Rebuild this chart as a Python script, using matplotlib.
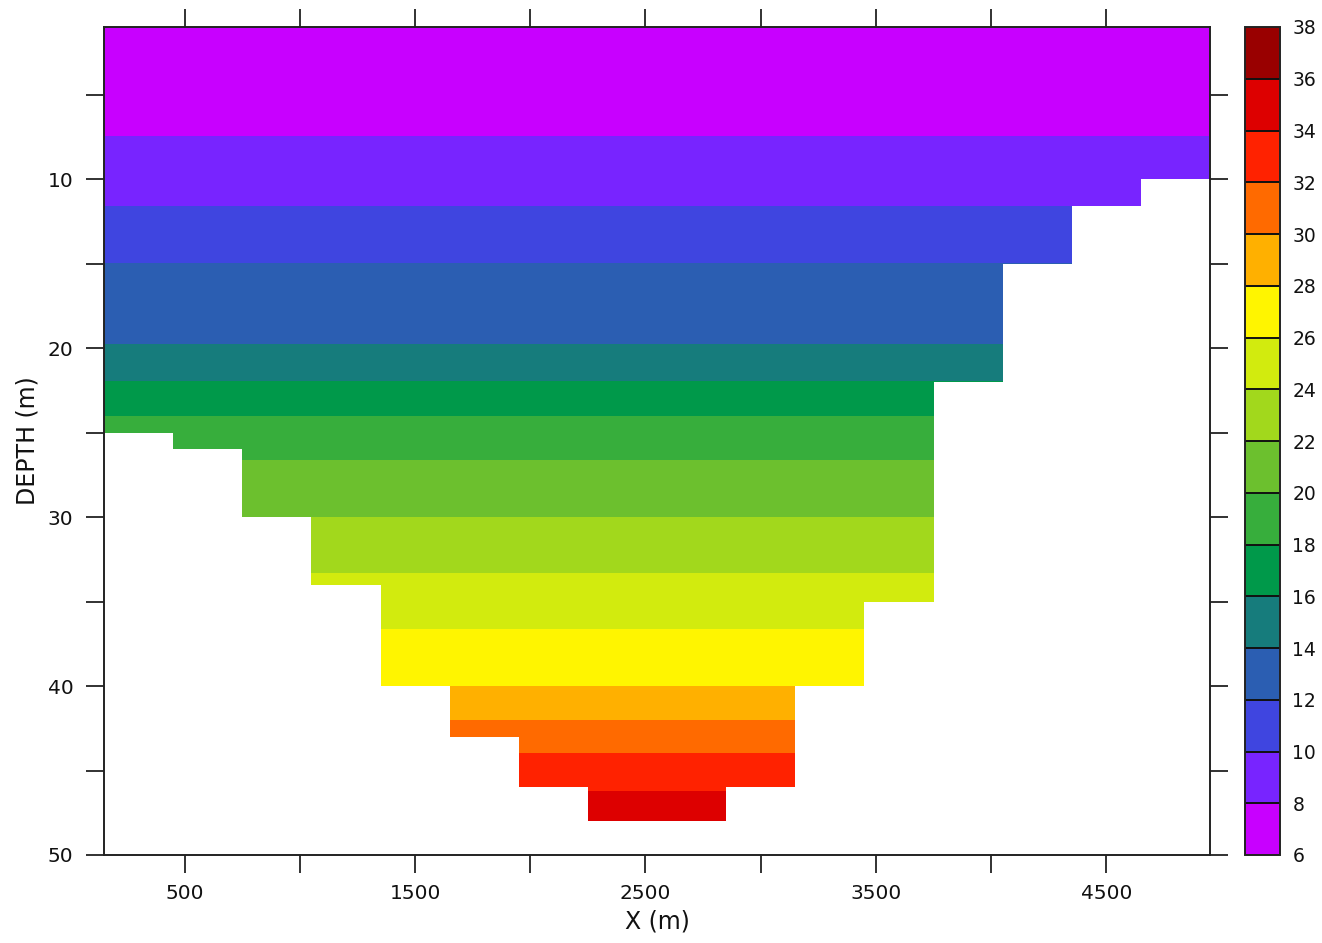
import numpy as np
import matplotlib
matplotlib.use("Agg")
import matplotlib.pyplot as plt
from matplotlib.colors import ListedColormap, BoundaryNorm

plt.rcParams['font.family'] = ['DejaVu Sans']

# Vertical profile: depth (m) and value at that depth
profile_depth = [1.0, 7.45, 11.6, 14.95, 19.75, 21.95, 24.0, 26.6, 30.0,
                 33.3, 36.6, 40.0, 42.0, 43.95, 46.2, 48.0]
profile_value = [6.4, 8.0, 10.0, 12.0, 14.0, 16.0, 18.0, 20.0, 22.0,
                 24.0, 26.0, 28.0, 30.0, 32.0, 34.0, 35.5]

# Section extent along X (m)
x_range = [150, 4950]

# Bottom depth for each 300 m column, column edges along X
column_edges = [150, 450, 750, 1050, 1350, 1650, 1950, 2250, 2550, 2850,
                3150, 3450, 3750, 4050, 4350, 4650, 4950]
bottom_depth = [25, 26, 30, 34, 40, 43, 46, 48, 48, 46, 40, 35, 22, 15, 11.6, 10]

# Contour levels and fill colours
levels = list(range(6, 40, 2))
fill_colors = ['#C800FF', '#7824FF', '#3F45E0', '#2B5EB2', '#167C7C',
               '#00994A', '#37AE3C', '#6CC02E', '#A2D81C', '#D2EB0E',
               '#FFF500', '#FFB000', '#FF6A00', '#FF2200', '#DD0000',
               '#990000']

xtick_values = [500, 1000, 1500, 2000, 2500, 3000, 3500, 4000, 4500]
xtick_labels = ['500', '', '1500', '', '2500', '', '3500', '', '4500']
ytick_values = [5, 10, 15, 20, 25, 30, 35, 40, 45, 50]
ytick_labels = ['', '10', '', '20', '', '30', '', '40', '', '50']

W, H = 1322, 943
fig = plt.figure(figsize=(W / 100, H / 100), dpi=100)
ax = fig.add_axes([104 / W, 1 - 855 / H, (1210 - 104) / W, (855 - 27) / H])
cax = fig.add_axes([1245 / W, 1 - 855 / H, 35 / W, (855 - 27) / H])

cmap = ListedColormap(fill_colors)
norm = BoundaryNorm(levels, cmap.N)

depth = np.array(profile_depth)
value = np.array(profile_value)
field = np.column_stack([value, value])
cs = ax.contourf(x_range, depth, field, levels=levels, cmap=cmap, norm=norm,
                 zorder=1)

# Blank out everything below the sea floor
floor = bottom_depth + [bottom_depth[-1]]
ax.fill_between(column_edges, floor, 60, step='post', color='white',
                linewidth=0, zorder=1.5)

ax.set_xlim(x_range[0], x_range[1])
ax.set_ylim(50, 1)

ax.set_xticks(xtick_values)
ax.set_xticklabels(xtick_labels)
ax.set_yticks(ytick_values)
ax.set_yticklabels(ytick_labels)
ax.tick_params(axis='both', which='major', direction='out', length=13,
               width=1.3, color='#222222', top=True, right=True,
               labelsize=14.5, labelcolor='#111111')
ax.tick_params(axis='x', pad=8)
ax.tick_params(axis='y', pad=9)
for sp in ax.spines.values():
    sp.set_linewidth(1.4)
    sp.set_color('#222222')
    sp.set_zorder(3)

fig.text(657 / W, 1 - 922 / H, 'X (m)', ha='center', va='center',
         fontsize=17, color='#111111')
fig.text(28 / W, 1 - 441 / H, 'DEPTH (m)', ha='center', va='center',
         rotation=90, fontsize=17, color='#111111')

cb = fig.colorbar(cs, cax=cax, ticks=levels, drawedges=True)
cb.outline.set_linewidth(1.4)
cb.outline.set_edgecolor('#222222')
cb.dividers.set_color('#111111')
cb.dividers.set_linewidth(1.4)
cax.tick_params(length=0, labelsize=13.5, pad=9, labelcolor='#111111')

fig.savefig('out.png', dpi=100)
